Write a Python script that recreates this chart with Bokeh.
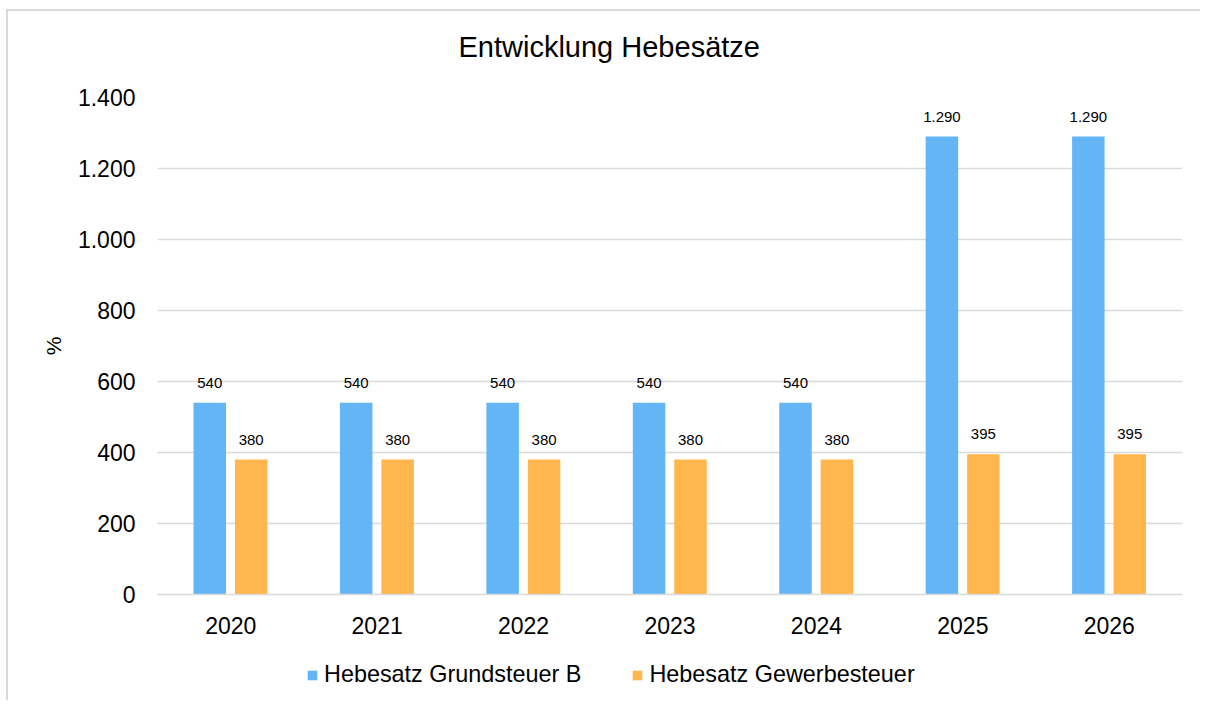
from bokeh.plotting import figure
from bokeh.models import (Range1d, FactorRange, FixedTicker, LabelSet, Label,
                          Legend, LegendItem, ColumnDataSource)
from bokeh.layouts import column
from bokeh.core.properties import value
from bokeh.transform import dodge
from bokeh.embed import file_html
from bokeh.resources import INLINE

# ---- data ----
years = ["2020", "2021", "2022", "2023", "2024", "2025", "2026"]
grundsteuer_b = [540, 540, 540, 540, 540, 1290, 1290]
gewerbesteuer = [380, 380, 380, 380, 380, 395, 395]
y_ticks = [0, 200, 400, 600, 800, 1000, 1200, 1400]
series_names = ["Hebesatz Grundsteuer B", "Hebesatz Gewerbesteuer"]
title_text = "Entwicklung Hebesätze"
y_label = "%"

FONT = "Liberation Sans"
BLUE = "#64B5F6"
ORANGE = "#FFB74D"
GRID = "#d9d9d9"
TXT = "#000000"


def de(v):
    return f"{v:,}".replace(",", ".")


def strip(h):
    f = figure(x_range=Range1d(0, 1), y_range=Range1d(0, 1), width=1200, height=h,
               output_backend="svg", toolbar_location=None,
               min_border_left=0, min_border_right=0, min_border_top=0,
               min_border_bottom=0)
    f.axis.visible = False
    f.grid.visible = False
    f.outline_line_color = None
    f.background_fill_alpha = 0
    f.border_fill_alpha = 0
    return f


src = ColumnDataSource(dict(
    year=years,
    gb=grundsteuer_b,
    gw=gewerbesteuer,
    gb_lbl=[de(v) for v in grundsteuer_b],
    gw_lbl=[de(v) for v in gewerbesteuer],
))

# ---- title strip ----
TITLE_H = 70
pt = strip(TITLE_H)
pt.add_layout(Label(x=301, y=TITLE_H - 46.5, x_units="screen", y_units="screen",
                    text=title_text, text_align="left", text_baseline="middle",
                    text_font=FONT, text_font_size="29px", text_color=TXT))

# ---- main chart ----
p = figure(x_range=FactorRange(*years), y_range=Range1d(0, 1400),
           width=1200, height=650 - TITLE_H, output_backend="svg",
           toolbar_location=None,
           min_border_left=157, min_border_right=18, min_border_top=97 - TITLE_H,
           min_border_bottom=56)
p.outline_line_color = None
p.background_fill_color = "white"
p.border_fill_alpha = 0

# axes
p.yaxis.ticker = FixedTicker(ticks=y_ticks)
p.yaxis.major_label_overrides = {t: de(t) for t in y_ticks}
p.yaxis.axis_line_color = None
p.yaxis.major_tick_line_color = None
p.yaxis.minor_tick_line_color = None
p.yaxis.major_label_standoff = 16
p.yaxis.major_label_text_font = FONT
p.yaxis.major_label_text_font_size = "23px"
p.yaxis.major_label_text_color = TXT
p.yaxis.axis_label = y_label
p.yaxis.axis_label_text_font = FONT
p.yaxis.axis_label_text_font_size = "21px"
p.yaxis.axis_label_text_font_style = "normal"
p.yaxis.axis_label_text_color = TXT
p.yaxis.axis_label_standoff = 10

p.xaxis.axis_line_color = GRID
p.xaxis.axis_line_width = 1.5
p.xaxis.major_tick_line_color = None
p.xaxis.minor_tick_line_color = None
p.xaxis.major_label_standoff = 16
p.xaxis.major_label_text_font = FONT
p.xaxis.major_label_text_font_size = "23px"
p.xaxis.major_label_text_color = TXT

p.xgrid.grid_line_color = None
p.ygrid.grid_line_color = GRID
p.ygrid.grid_line_width = 1.5

# bars
r1 = p.vbar(x=dodge("year", -0.143, range=p.x_range), top="gb", width=0.222,
            source=src, fill_color=BLUE, line_color=None)
r2 = p.vbar(x=dodge("year", 0.14, range=p.x_range), top="gw", width=0.222,
            source=src, fill_color=ORANGE, line_color=None)

# data labels
for xo, col in [(-0.143, "gb"), (0.14, "gw")]:
    ls = LabelSet(x=dodge("year", xo, range=p.x_range), y=col, text=col + "_lbl",
                  source=src, text_align="center", text_baseline="bottom",
                  y_offset=15, text_font=value(FONT), text_font_size=value("15px"),
                  text_color=TXT)
    p.add_layout(ls)

# ---- legend strip ----
pl = strip(50)
# zero-height swatch renderers (only used for the legend keys)
d1 = pl.vbar(x=[0.5], top=[0], width=[0], fill_color=BLUE, line_color=None)
d2 = pl.vbar(x=[0.5], top=[0], width=[0], fill_color=ORANGE, line_color=None)
legend = Legend(items=[LegendItem(label=series_names[0], renderers=[d1]),
                       LegendItem(label=series_names[1], renderers=[d2])],
                location=(149, 12), orientation="horizontal",
                glyph_width=12, glyph_height=12, label_standoff=6, spacing=50,
                padding=0, margin=0, background_fill_alpha=0,
                border_line_alpha=0, label_text_font=FONT,
                label_text_font_size="23.4px", label_text_color=TXT)
pl.add_layout(legend)

layout = column(pt, p, pl, spacing=0, styles={
    "background": "linear-gradient(#d9d9d9,#d9d9d9) 6px 9px / 2px calc(100% - 9px) no-repeat, "
                  "linear-gradient(#d9d9d9,#d9d9d9) 6px 9px / calc(100% - 6px) 2px no-repeat, white"
})

open("out.html", "w").write(file_html(layout, INLINE))
